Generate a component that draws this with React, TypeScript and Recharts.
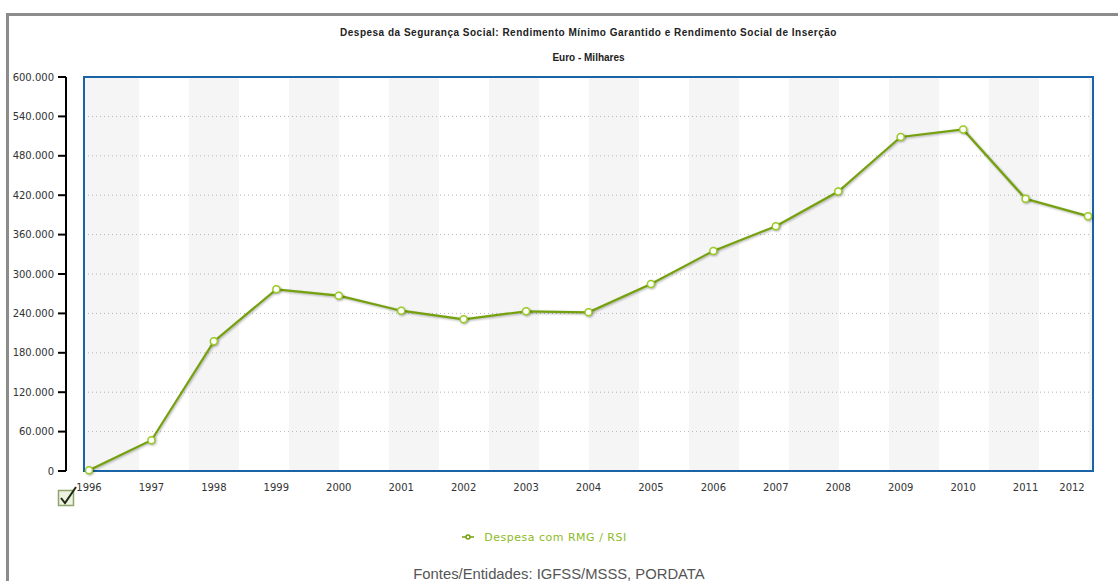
import React from "react"
import { LineChart, Line, XAxis, YAxis, CartesianGrid, ReferenceArea, Legend } from "recharts"

const years = [
  "1996", "1997", "1998", "1999", "2000", "2001", "2002", "2003", "2004",
  "2005", "2006", "2007", "2008", "2009", "2010", "2011", "2012",
]

// Despesa com RMG / RSI, milhares de euros
const despesa = [
  1200, 46800, 197400, 276700, 267000, 244100, 231000, 243200, 241600,
  284800, 335200, 372800, 425600, 508600, 520200, 414500, 388100,
]

const yTicks = [0, 60000, 120000, 180000, 240000, 300000, 360000, 420000, 480000, 540000, 600000]

const data = years.map((year, i) => ({ year, despesa: despesa[i] }))

const PAD = 5

const fmt = (v: number) => String(v).replace(/\B(?=(\d{3})+(?!\d))/g, ".")

function YTick({ x, y, payload }: any) {
  return (
    <g>
      <line x1={x - 26} x2={x - 18} y1={y} y2={y} stroke="#000" strokeWidth={2} />
      <text x={x - 30} y={y + 3.5} textAnchor="end" fontSize={10} fontFamily="DejaVu Sans" fill="#333">
        {fmt(payload.value)}
      </text>
    </g>
  )
}

function XTick({ x, y, payload }: any) {
  const last = payload.value === years[years.length - 1]
  return (
    <text x={last ? x - 16 : x} y={y + 19.5} textAnchor="middle" fontSize={10} fontFamily="DejaVu Sans" fill="#333">
      {payload.value}
    </text>
  )
}

// blue frame around the plot, widened by the axis padding
function Frame({ x, y, width, height }: any) {
  return <rect x={x - PAD} y={y} width={width + 2 * PAD} height={height} fill="none" stroke="#1a63a6" strokeWidth={2} />
}

// alternating 50px background bands, starting 5px right of the first point
const stripes = ({ offset }: any) => {
  const pts = [offset.left]
  for (let p = offset.left + 55; p < offset.left + offset.width; p += 50) pts.push(p)
  return pts
}

export default function App() {
  return (
    <div style={{ position: "absolute", left: 0, top: 0, width: 1118, height: 581, overflow: "hidden", background: "#fff" }}>
      <div
        style={{
          position: "absolute", left: 6, top: 13, width: 1300, height: 700,
          borderTop: "3px solid #8c8c8c", borderLeft: "3px solid #8c8c8c",
        }}
      />
      <div
        style={{
          position: "absolute", left: 84, top: 27, width: 1009, textAlign: "center",
          fontFamily: "Liberation Sans", fontWeight: "bold", fontSize: 10, letterSpacing: 0.5,
          lineHeight: "12px", color: "#222",
        }}
      >
        Despesa da Segurança Social: Rendimento Mínimo Garantido e Rendimento Social de Inserção
      </div>
      <div
        style={{
          position: "absolute", left: 84, top: 52, width: 1009, textAlign: "center",
          fontFamily: "Liberation Sans", fontWeight: "bold", fontSize: 10, lineHeight: "12px", color: "#222",
        }}
      >
        Euro - Milhares
      </div>

      <div style={{ position: "absolute", left: 0, top: 0 }}>
        <LineChart width={1118} height={581} data={data} margin={{ top: 77, right: 25, left: 0, bottom: 80 }}>
          <CartesianGrid
            horizontal={false}
            stroke="none"
            verticalFill={["#f5f5f5", "#ffffff"]}
            verticalCoordinatesGenerator={stripes}
          />
          <CartesianGrid vertical={false} stroke="#b5b5b5" strokeDasharray="1 3" />
          <XAxis
            dataKey="year"
            interval={0}
            padding={{ left: PAD, right: PAD }}
            axisLine={false}
            tickLine={false}
            tickSize={0}
            tickMargin={0}
            height={30}
            tick={<XTick />}
          />
          <YAxis
            width={84}
            domain={[0, 600000]}
            ticks={yTicks}
            interval={0}
            tickLine={false}
            tickSize={0}
            tickMargin={0}
            axisLine={{ stroke: "#000", strokeWidth: 2, transform: "translate(-18 0)" }}
            tick={<YTick />}
          />
          <ReferenceArea
            x1={years[0]}
            x2={years[years.length - 1]}
            y1={0}
            y2={600000}
            ifOverflow="visible"
            shape={<Frame />}
          />
          <Legend
            layout="horizontal"
            verticalAlign="middle"
            align="center"
            iconType="line"
            iconSize={12}
            wrapperStyle={{ left: 0, top: 527, width: 1099 }}
            formatter={(v: string) => (
              <span style={{ color: "#8dba1f", fontFamily: "DejaVu Sans", fontSize: 11, letterSpacing: 0.5, marginLeft: 6 }}>
                {v}
              </span>
            )}
          />
          <Line
            type="linear"
            dataKey="despesa"
            name="Despesa com RMG / RSI"
            stroke="#74a10c"
            strokeWidth={2.2}
            dot={{ r: 3.5, fill: "#fff", stroke: "#9acb22", strokeWidth: 1.5 }}
            style={{ filter: "drop-shadow(1px 1.5px 1px rgba(0,0,0,0.3))" }}
            isAnimationActive={false}
          />
        </LineChart>
      </div>

      <svg style={{ position: "absolute", left: 56, top: 484 }} width={24} height={24}>
        <rect x={2.5} y={6.5} width={15} height={15} fill="#eef2e2" stroke="#8ea66b" strokeWidth={1.5} />
        <path d="M5 14 L9 19 L20 3" fill="none" stroke="#1f2a14" strokeWidth={2} />
      </svg>

      <div
        style={{
          position: "absolute", left: 0, top: 566, width: 1118, textAlign: "center",
          fontFamily: "Liberation Sans", fontSize: 14.8, lineHeight: "16px", color: "#555",
        }}
      >
        Fontes/Entidades: IGFSS/MSSS, PORDATA
      </div>
    </div>
  )
}
